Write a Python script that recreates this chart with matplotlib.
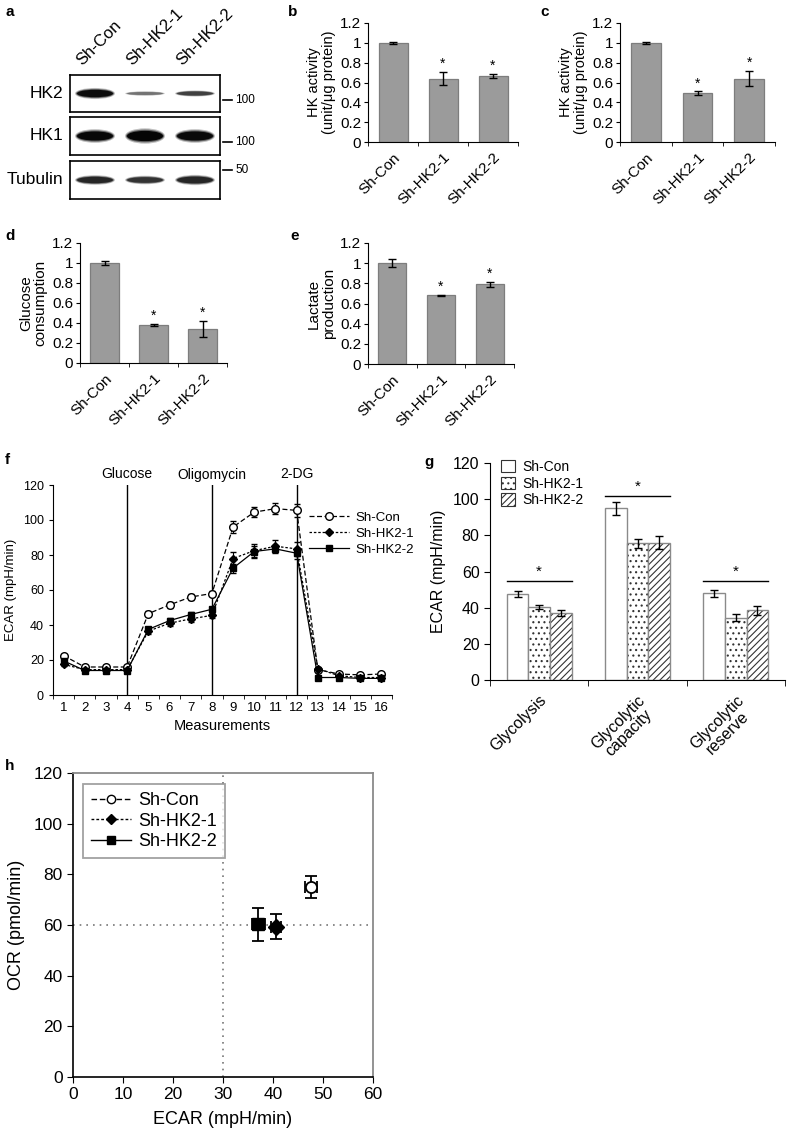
import numpy as np
import matplotlib
matplotlib.use('Agg')
import matplotlib.pyplot as plt
from matplotlib.patches import Ellipse, Patch
from matplotlib.lines import Line2D

plt.rcParams['font.family'] = ['Liberation Sans', 'DejaVu Sans']
plt.rcParams['hatch.linewidth'] = 0.8

W, H = 787, 1136

# ---- data ----
groups = ['Sh-Con', 'Sh-HK2-1', 'Sh-HK2-2']

hk_b = [1.0, 0.64, 0.67]
hk_b_err = [0.01, 0.07, 0.02]
hk_c = [1.0, 0.49, 0.64]
hk_c_err = [0.01, 0.02, 0.08]
glc = [1.0, 0.385, 0.345]
glc_err = [0.02, 0.01, 0.08]
lac = [1.0, 0.68, 0.79]
lac_err = [0.04, 0.003, 0.025]

# western blot band darkness (0-1) and thickness (fraction of box), per lane
blot_rows = ['HK2', 'HK1', 'Tubulin']
band_dark = [[0.95, 0.55, 0.75], [0.97, 0.98, 0.96], [0.85, 0.8, 0.85]]
band_thick = [[0.2, 0.08, 0.11], [0.24, 0.27, 0.24], [0.17, 0.15, 0.18]]

meas = list(range(1, 17))
ecar_con = [22.5, 16, 16, 16, 46.5, 51.5, 56, 58, 96, 104.5, 106.5, 105.5, 14.5, 12, 11.5, 12]
ecar_con_err = [1, 1, 1, 1, 1.5, 1.5, 1.5, 1.5, 3.5, 3, 3, 3.5, 1, 1, 1, 1]
ecar_hk1 = [17.5, 14.5, 14.5, 14.5, 36.5, 41, 43.5, 45.5, 78, 82.5, 85, 83.5, 15, 11, 10, 10]
ecar_hk1_err = [1, 1, 1, 1, 1.5, 1.5, 1.5, 1.5, 3.5, 4, 3.5, 4, 1, 1, 1, 1]
ecar_hk2 = [19.5, 14, 14, 14, 37.5, 42.5, 46, 49, 72.5, 82, 83.5, 81, 10, 10, 9.5, 9.5]
ecar_hk2_err = [1, 1, 1, 1, 1.5, 1.5, 1.5, 1.5, 2.5, 3, 2.5, 3, 1, 1, 1, 1]
injections = [4, 8, 12]
injection_names = ['Glucose', 'Oligomycin', '2-DG']

g_groups = ['Glycolysis', 'Glycolytic\ncapacity', 'Glycolytic\nreserve']
g_con = [47.5, 95, 48]
g_con_err = [1.5, 3.5, 2]
g_hk1 = [40.5, 75.5, 34.5]
g_hk1_err = [1, 2.5, 2]
g_hk2 = [37, 76, 38.5]
g_hk2_err = [1.5, 3.5, 2.5]
g_sig = [55, 102, 55]

h_ecar = [47.5, 40.5, 37]
h_ecar_err = [1.2, 1.0, 1.3]
h_ocr = [75, 59.3, 60.2]
h_ocr_err = [4.5, 5, 6.5]


def rect(l, t, r, b):
    return [l / W, 1 - b / H, (r - l) / W, (b - t) / H]


fig = plt.figure(figsize=(W / 100, H / 100), dpi=100)

# panel letters
for lab, (x, y) in zip('abcdefgh', [(5, 12), (288, 12), (540, 12), (5, 236), (290, 236),
                                    (5, 460), (424, 462), (5, 766)]):
    fig.text(x / W, 1 - y / H, lab, fontsize=11, fontweight='bold', va='center')

# ---- a: western blot ----
boxes = [(75, 112), (117, 155), (161, 199)]
bl, br = 70, 220
for r, (t, b) in enumerate(boxes):
    ax = fig.add_axes(rect(bl, t, br, b))
    ax.set_xlim(0, 3)
    ax.set_ylim(0, 1)
    ax.set_xticks([])
    ax.set_yticks([])
    for s in ax.spines.values():
        s.set_linewidth(1.2)
    for lane in range(3):
        d = band_dark[r][lane]
        th = band_thick[r][lane]
        for k, a in enumerate([0.25, 0.5, 1.0]):
            ax.add_patch(Ellipse((lane + 0.5, 0.5), 0.8 - 0.04 * k, th * (1.5 - 0.25 * k),
                                 color=str(1 - d), alpha=a, lw=0))
    fig.text((bl - 7) / W, 1 - ((t + b) / 2) / H, blot_rows[r], fontsize=12.5,
             ha='right', va='center')

for i, g in enumerate(groups):
    fig.text((84 + 50 * i) / W, 1 - 68 / H, g, fontsize=12, rotation=45,
             ha='left', va='bottom', rotation_mode='anchor')

for y, lab in [(100, '100'), (142, '100'), (170, '50')]:
    fig.add_artist(Line2D([(br + 3) / W, (br + 12) / W], [1 - y / H, 1 - y / H],
                          color='k', lw=1.2))
    fig.text((br + 15) / W, 1 - y / H, lab, fontsize=8.5, va='center')


# ---- b-e: bar panels ----
def bar_panel(box, vals, errs, ylabel, ysize):
    ax = fig.add_axes(rect(*box))
    x = np.arange(3)
    ax.bar(x, vals, width=0.58, color='#9b9b9b', edgecolor='#7d7d7d', lw=0.9)
    ax.errorbar(x, vals, yerr=errs, fmt='none', ecolor='k', elinewidth=1,
                capsize=3, capthick=1)
    for i in (1, 2):
        ax.text(i, vals[i] + errs[i] + 0.01, '*', ha='center', va='bottom', fontsize=10)
    ax.set_xlim(-0.5, 2.5)
    ax.set_ylim(0, 1.2)
    ax.set_yticks([0, 0.2, 0.4, 0.6, 0.8, 1.0, 1.2])
    ax.set_yticklabels(['0', '0.2', '0.4', '0.6', '0.8', '1', '1.2'])
    ax.set_xticks(x)
    ax.set_xticklabels(groups, rotation=45, ha='right', va='top', rotation_mode='anchor')
    ax.set_xticks([-0.5, 0.5, 1.5, 2.5], minor=True)
    ax.tick_params(axis='x', which='major', length=0, pad=6, labelsize=11)
    ax.tick_params(axis='x', which='minor', length=3)
    ax.tick_params(axis='y', length=3, labelsize=11, pad=2)
    for s in ['top', 'right']:
        ax.spines[s].set_visible(False)
    ax.set_ylabel(ylabel, fontsize=ysize, labelpad=3, linespacing=1.05)
    return ax


bar_panel((368, 23, 518, 142), hk_b, hk_b_err, 'HK activity\n(unit/μg protein)', 10.5)
bar_panel((620, 23, 775, 142), hk_c, hk_c_err, 'HK activity\n(unit/μg protein)', 10.5)
bar_panel((80, 243, 227, 363), glc, glc_err, 'Glucose\nconsumption', 11)
bar_panel((368, 243, 514, 364), lac, lac_err, 'Lactate\nproduction', 11)

# ---- f: ECAR time course ----
styles = [dict(ls=(0, (4, 2)), marker='o', mfc='white', mec='k', ms=5.5),
          dict(ls=(0, (2, 1.5)), marker='D', mfc='k', mec='k', ms=4.5),
          dict(ls='-', marker='s', mfc='k', mec='k', ms=5)]
ax = fig.add_axes(rect(53, 485, 392, 695))
for vals, errs, st in zip([ecar_con, ecar_hk1, ecar_hk2],
                          [ecar_con_err, ecar_hk1_err, ecar_hk2_err], styles):
    ax.errorbar(meas, vals, yerr=errs, color='k', lw=0.9, capsize=2, elinewidth=0.8, **st)
for xi, nm in zip(injections, injection_names):
    ax.axvline(xi, color='k', lw=1)
    ax.text(xi, 122, nm, ha='center', va='bottom', fontsize=10)
ax.set_xlim(0.5, 16.5)
ax.set_ylim(0, 120)
ax.set_xticks(meas)
ax.set_xticks(np.arange(0.5, 17, 1), minor=True)
ax.tick_params(axis='x', which='major', length=0, labelsize=9.5, pad=5)
ax.tick_params(axis='x', which='minor', length=3)
ax.tick_params(axis='y', length=3, labelsize=9)
ax.set_yticks(range(0, 121, 20))
for s in ['top', 'right']:
    ax.spines[s].set_visible(False)
ax.set_xlabel('Measurements', fontsize=10.5, labelpad=4)
ax.set_ylabel('ECAR (mpH/min)', fontsize=9.5, labelpad=4)
f_handles = [Line2D([], [], color='k', lw=0.9, **st) for st in styles]
ax.legend(f_handles, groups, loc='upper left', bbox_to_anchor=(0.74, 0.9), frameon=False,
          fontsize=9.5, handlelength=3.0, labelspacing=0.3, borderaxespad=0, handletextpad=0.5)

# ---- g: glycolysis parameters ----
ax = fig.add_axes(rect(490, 463, 785, 680))
x = np.arange(3)
w = 0.22
ax.bar(x - w, g_con, width=w, color='white', edgecolor='#8a8a8a', lw=1)
ax.bar(x, g_hk1, width=w, color='white', edgecolor='#333333', lw=0, hatch='...')
ax.bar(x, g_hk1, width=w, fill=False, edgecolor='#8a8a8a', lw=1)
ax.bar(x + w, g_hk2, width=w, color='white', edgecolor='#333333', lw=0, hatch='/////')
ax.bar(x + w, g_hk2, width=w, fill=False, edgecolor='#8a8a8a', lw=1)
for off, v, e in [(-w, g_con, g_con_err), (0, g_hk1, g_hk1_err), (w, g_hk2, g_hk2_err)]:
    ax.errorbar(x + off, v, yerr=e, fmt='none', ecolor='k', elinewidth=1, capsize=3, capthick=1)
for i, s in enumerate(g_sig):
    ax.plot([i - 1.5 * w, i + 1.5 * w], [s, s], color='k', lw=1)
    ax.text(i, s + 1, '*', ha='center', va='bottom', fontsize=11)
ax.set_xlim(-0.5, 2.5)
ax.set_ylim(0, 120)
ax.set_yticks(range(0, 121, 20))
ax.set_xticks(x)
ax.set_xticklabels(g_groups, rotation=45, ha='right', va='top', rotation_mode='anchor',
                   multialignment='center', linespacing=1.0)
ax.set_xticks([-0.5, 0.5, 1.5, 2.5], minor=True)
ax.tick_params(axis='x', which='major', length=0, labelsize=11.5, pad=9)
ax.tick_params(axis='x', which='minor', length=4)
ax.tick_params(axis='y', length=4, labelsize=11.5)
for s in ['top', 'right']:
    ax.spines[s].set_visible(False)
ax.set_ylabel('ECAR (mpH/min)', fontsize=11.5, labelpad=5)
g_handles = [Patch(facecolor='white', edgecolor='#333333', lw=0.8),
             Patch(facecolor='white', edgecolor='#333333', lw=0.8, hatch='...'),
             Patch(facecolor='white', edgecolor='#333333', lw=0.8, hatch='/////')]
ax.legend(g_handles, groups, loc='upper left', bbox_to_anchor=(0.02, 1.04), frameon=False,
          fontsize=10, handlelength=1.0, handleheight=1.0, labelspacing=0.2,
          handletextpad=0.5, borderaxespad=0)

# ---- h: energy map ----
ax = fig.add_axes(rect(73, 773, 373, 1077))
ax.axvline(30, color='#777777', ls=(0, (1, 3)), lw=1.2)
ax.axhline(60, color='#777777', ls=(0, (1, 3)), lw=1.2)
ax.errorbar(h_ecar[0], h_ocr[0], xerr=h_ecar_err[0], yerr=h_ocr_err[0], fmt='o', color='k',
            mfc='white', mec='k', mew=1.3, ms=8, capsize=4, elinewidth=1.3, capthick=1.3)
ax.errorbar(h_ecar[1], h_ocr[1], xerr=h_ecar_err[1], yerr=h_ocr_err[1], fmt='D', color='k',
            ms=8, capsize=4, elinewidth=1.3, capthick=1.3)
ax.errorbar(h_ecar[2], h_ocr[2], xerr=h_ecar_err[2], yerr=h_ocr_err[2], fmt='s', color='k',
            ms=9, capsize=4, elinewidth=1.3, capthick=1.3)
ax.set_xlim(0, 60)
ax.set_ylim(0, 120)
ax.set_xticks(range(0, 61, 10))
ax.set_yticks(range(0, 121, 20))
ax.tick_params(length=4, labelsize=12.5)
for s in ['top', 'right']:
    ax.spines[s].set_color('#8a8a8a')
    ax.spines[s].set_linewidth(1.3)
for s in ['left', 'bottom']:
    ax.spines[s].set_linewidth(1.2)
ax.set_xlabel('ECAR (mpH/min)', fontsize=13, labelpad=6)
ax.set_ylabel('OCR (pmol/min)', fontsize=13, labelpad=6)
h_handles = [Line2D([], [], color='k', ls=(0, (4, 2)), lw=1, marker='o', mfc='white', mec='k', ms=6),
             Line2D([], [], color='k', ls=(0, (2, 1.5)), lw=1, marker='D', mfc='k', ms=5),
             Line2D([], [], color='k', ls='-', lw=1, marker='s', mfc='k', ms=6)]
leg = ax.legend(h_handles, groups, loc='upper left', bbox_to_anchor=(0.033, 0.964),
                fontsize=13, handlelength=2.2, labelspacing=0.2, borderaxespad=0,
                fancybox=False, edgecolor='#8a8a8a', borderpad=0.45, handletextpad=0.4)
leg.get_frame().set_linewidth(1.3)

fig.savefig('out.png', dpi=100)
